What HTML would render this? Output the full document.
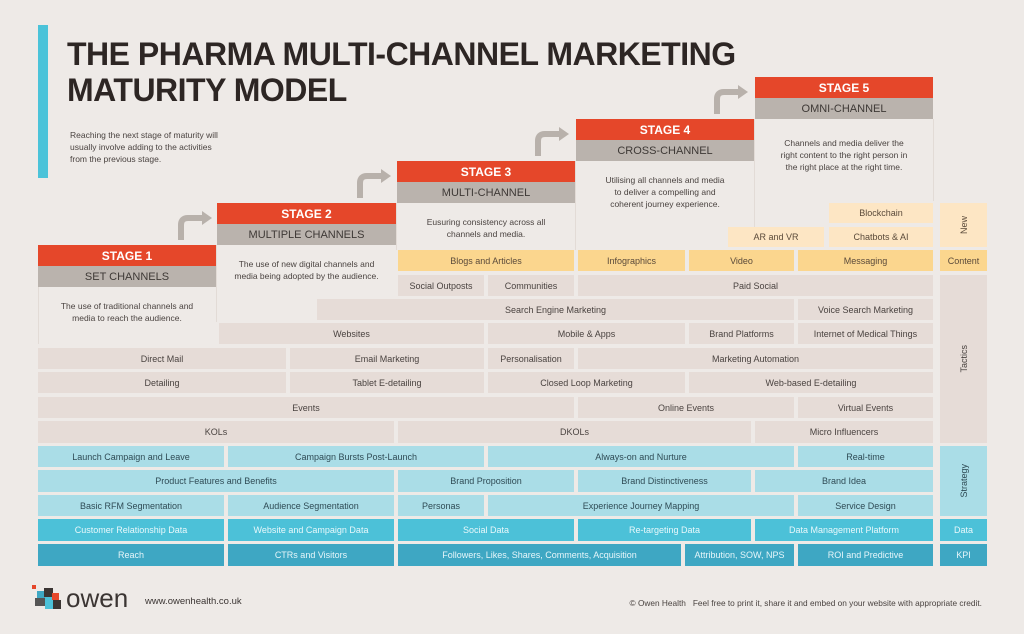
<!DOCTYPE html>
<html><head><meta charset="utf-8"><style>
body{margin:0;width:1024px;height:634px;background:#eeeae7;position:relative;overflow:hidden;font-family:"Liberation Sans",sans-serif;}
.b{position:absolute;display:flex;align-items:center;justify-content:center;font-size:9px;color:#4a4340;box-sizing:border-box;text-align:center;}
.t{background:#e6dcd7;}
.y{background:#fbd68e;color:#5a4a3a;}
.ly{background:#fde6c4;color:#5a4a3a;}
.lb{background:#aadde7;color:#2f4b55;}
.db{background:#4cc1d8;color:#e8f8fb;}
.kb{background:#3ea7c3;color:#e6f6fa;}
.r{background:#e5472a;color:#fff;font-weight:bold;font-size:12px;}
.g{background:#bab3ad;color:#3e3936;font-size:11px;}
.d{position:absolute;font-size:8.5px;color:#4a4340;text-align:center;line-height:12px;}
.v{writing-mode:vertical-rl;transform:rotate(180deg);}
.ln{position:absolute;width:1px;background:#e2dbd6;}
</style></head><body>
<div style="position:absolute;left:38px;top:25px;width:10px;height:153px;background:#4bc3d9"></div>
<div style="position:absolute;left:67px;top:36px;font-size:32px;font-weight:900;line-height:36px;color:#2d2624;letter-spacing:-0.5px">THE PHARMA MULTI-CHANNEL MARKETING<br>MATURITY MODEL</div>
<div style="position:absolute;left:70px;top:129px;font-size:8.5px;line-height:12px;color:#4a4340">Reaching the next stage of maturity will<br>usually involve adding to the activities<br>from the previous stage.</div>

<svg style="position:absolute;left:0;top:0" width="1024" height="634">
<g fill="none" stroke="#b8b1ab" stroke-width="6">
<path d="M181 240 V225 Q181 218 188 218 H203"/>
<path d="M360 198 V183 Q360 176 367 176 H382"/>
<path d="M538 156 V141 Q538 134 545 134 H560"/>
<path d="M717 114 V99 Q717 92 724 92 H739"/>
</g>
<g fill="#b8b1ab">
<path d="M202 211 L212 218 L202 225Z"/><path d="M381 169 L391 176 L381 183Z"/><path d="M559 127 L569 134 L559 141Z"/><path d="M738 85 L748 92 L738 99Z"/>
</g>
</svg>

<div class="ln" style="left:38px;top:287px;height:57px"></div>
<div class="ln" style="left:216px;top:245px;height:77px"></div>
<div class="ln" style="left:396px;top:203px;height:47px"></div>
<div class="ln" style="left:575px;top:161px;height:89px"></div>
<div class="ln" style="left:754px;top:119px;height:108px"></div>
<div class="ln" style="left:933px;top:119px;height:82px"></div>

<div class="b r" style="left:38px;top:245px;width:178px;height:21px">STAGE 1</div>
<div class="b g" style="left:38px;top:266px;width:178px;height:21px">SET CHANNELS</div>
<div class="b r" style="left:217px;top:203px;width:179px;height:21px">STAGE 2</div>
<div class="b g" style="left:217px;top:224px;width:179px;height:21px">MULTIPLE CHANNELS</div>
<div class="b r" style="left:397px;top:161px;width:178px;height:21px">STAGE 3</div>
<div class="b g" style="left:397px;top:182px;width:178px;height:21px">MULTI-CHANNEL</div>
<div class="b r" style="left:576px;top:119px;width:178px;height:21px">STAGE 4</div>
<div class="b g" style="left:576px;top:140px;width:178px;height:21px">CROSS-CHANNEL</div>
<div class="b r" style="left:755px;top:77px;width:178px;height:21px">STAGE 5</div>
<div class="b g" style="left:755px;top:98px;width:178px;height:21px">OMNI-CHANNEL</div>

<div class="d" style="left:38px;top:300px;width:178px">The use of traditional channels and<br>media to reach the audience.</div>
<div class="d" style="left:217px;top:258px;width:179px">The use of new digital channels and<br>media being adopted by the audience.</div>
<div class="d" style="left:397px;top:216px;width:178px">Eusuring consistency across all<br>channels and media.</div>
<div class="d" style="left:576px;top:174px;width:178px">Utilising all channels and media<br>to deliver a compelling and<br>coherent journey experience.</div>
<div class="d" style="left:755px;top:137px;width:178px">Channels and media deliver the<br>right content to the right person in<br>the right place at the right time.</div>

<div class="b ly" style="left:829px;top:203px;width:104px;height:20px">Blockchain</div>
<div class="b ly" style="left:728px;top:227px;width:96px;height:20px">AR and VR</div>
<div class="b ly" style="left:829px;top:227px;width:104px;height:20px">Chatbots &amp; AI</div>
<div class="b ly" style="left:940px;top:203px;width:47px;height:44px"><span class="v">New</span></div>

<div class="b y" style="left:398px;top:250px;width:176px;height:21px">Blogs and Articles</div>
<div class="b y" style="left:578px;top:250px;width:107px;height:21px">Infographics</div>
<div class="b y" style="left:689px;top:250px;width:105px;height:21px">Video</div>
<div class="b y" style="left:798px;top:250px;width:135px;height:21px">Messaging</div>
<div class="b y" style="left:940px;top:250px;width:47px;height:21px">Content</div>

<div class="b t" style="left:398px;top:275px;width:86px;height:21px">Social Outposts</div>
<div class="b t" style="left:488px;top:275px;width:86px;height:21px">Communities</div>
<div class="b t" style="left:578px;top:275px;width:355px;height:21px">Paid Social</div>
<div class="b t" style="left:940px;top:275px;width:47px;height:168px"><span class="v">Tactics</span></div>

<div class="b t" style="left:317px;top:299px;width:477px;height:21px">Search Engine Marketing</div>
<div class="b t" style="left:798px;top:299px;width:135px;height:21px">Voice Search Marketing</div>

<div class="b t" style="left:219px;top:323px;width:265px;height:21px">Websites</div>
<div class="b t" style="left:488px;top:323px;width:197px;height:21px">Mobile &amp; Apps</div>
<div class="b t" style="left:689px;top:323px;width:105px;height:21px">Brand Platforms</div>
<div class="b t" style="left:798px;top:323px;width:135px;height:21px">Internet of Medical Things</div>

<div class="b t" style="left:38px;top:348px;width:248px;height:21px">Direct Mail</div>
<div class="b t" style="left:290px;top:348px;width:194px;height:21px">Email Marketing</div>
<div class="b t" style="left:488px;top:348px;width:86px;height:21px">Personalisation</div>
<div class="b t" style="left:578px;top:348px;width:355px;height:21px">Marketing Automation</div>

<div class="b t" style="left:38px;top:372px;width:248px;height:21px">Detailing</div>
<div class="b t" style="left:290px;top:372px;width:194px;height:21px">Tablet E-detailing</div>
<div class="b t" style="left:488px;top:372px;width:197px;height:21px">Closed Loop Marketing</div>
<div class="b t" style="left:689px;top:372px;width:244px;height:21px">Web-based E-detailing</div>

<div class="b t" style="left:38px;top:397px;width:536px;height:21px">Events</div>
<div class="b t" style="left:578px;top:397px;width:216px;height:21px">Online Events</div>
<div class="b t" style="left:798px;top:397px;width:135px;height:21px">Virtual Events</div>

<div class="b t" style="left:38px;top:421px;width:356px;height:22px">KOLs</div>
<div class="b t" style="left:398px;top:421px;width:353px;height:22px">DKOLs</div>
<div class="b t" style="left:755px;top:421px;width:178px;height:22px">Micro Influencers</div>

<div class="b lb" style="left:38px;top:446px;width:186px;height:21px">Launch Campaign and Leave</div>
<div class="b lb" style="left:228px;top:446px;width:256px;height:21px">Campaign Bursts Post-Launch</div>
<div class="b lb" style="left:488px;top:446px;width:306px;height:21px">Always-on and Nurture</div>
<div class="b lb" style="left:798px;top:446px;width:135px;height:21px">Real-time</div>
<div class="b lb" style="left:940px;top:446px;width:47px;height:70px"><span class="v">Strategy</span></div>

<div class="b lb" style="left:38px;top:470px;width:356px;height:22px">Product Features and Benefits</div>
<div class="b lb" style="left:398px;top:470px;width:176px;height:22px">Brand Proposition</div>
<div class="b lb" style="left:578px;top:470px;width:173px;height:22px">Brand Distinctiveness</div>
<div class="b lb" style="left:755px;top:470px;width:178px;height:22px">Brand Idea</div>

<div class="b lb" style="left:38px;top:495px;width:186px;height:21px">Basic RFM Segmentation</div>
<div class="b lb" style="left:228px;top:495px;width:166px;height:21px">Audience Segmentation</div>
<div class="b lb" style="left:398px;top:495px;width:86px;height:21px">Personas</div>
<div class="b lb" style="left:488px;top:495px;width:306px;height:21px">Experience Journey Mapping</div>
<div class="b lb" style="left:798px;top:495px;width:135px;height:21px">Service Design</div>

<div class="b db" style="left:38px;top:519px;width:186px;height:22px">Customer Relationship Data</div>
<div class="b db" style="left:228px;top:519px;width:166px;height:22px">Website and Campaign Data</div>
<div class="b db" style="left:398px;top:519px;width:176px;height:22px">Social Data</div>
<div class="b db" style="left:578px;top:519px;width:173px;height:22px">Re-targeting Data</div>
<div class="b db" style="left:755px;top:519px;width:178px;height:22px">Data Management Platform</div>
<div class="b db" style="left:940px;top:519px;width:47px;height:22px">Data</div>

<div class="b kb" style="left:38px;top:544px;width:186px;height:22px">Reach</div>
<div class="b kb" style="left:228px;top:544px;width:166px;height:22px">CTRs and Visitors</div>
<div class="b kb" style="left:398px;top:544px;width:283px;height:22px">Followers, Likes, Shares, Comments, Acquisition</div>
<div class="b kb" style="left:685px;top:544px;width:109px;height:22px">Attribution, SOW, NPS</div>
<div class="b kb" style="left:798px;top:544px;width:135px;height:22px">ROI and Predictive</div>
<div class="b kb" style="left:940px;top:544px;width:47px;height:22px">KPI</div>

<svg style="position:absolute;left:32px;top:585px" width="34" height="28">
<rect x="0" y="0" width="4" height="4" fill="#e5472a"/>
<rect x="5" y="6" width="8" height="8" fill="#3ea7c3"/>
<rect x="12" y="3" width="9" height="9" fill="#3b3533"/>
<rect x="3" y="13" width="10" height="8" fill="#555"/>
<rect x="13" y="12" width="9" height="12" fill="#4cc1d8"/>
<rect x="20" y="8" width="7" height="7" fill="#e5472a"/>
<rect x="21" y="15" width="8" height="9" fill="#3b3533"/>
</svg>
<div style="position:absolute;left:66px;top:584px;font-size:26px;color:#3b3533;line-height:28px">owen</div>
<div style="position:absolute;left:145px;top:596px;font-size:9.5px;color:#3b3533">www.owenhealth.co.uk</div>
<div style="position:absolute;right:42px;top:598px;font-size:8.3px;color:#4a4340">© Owen Health &nbsp; Feel free to print it, share it and embed on your website with appropriate credit.</div>
</body></html>
